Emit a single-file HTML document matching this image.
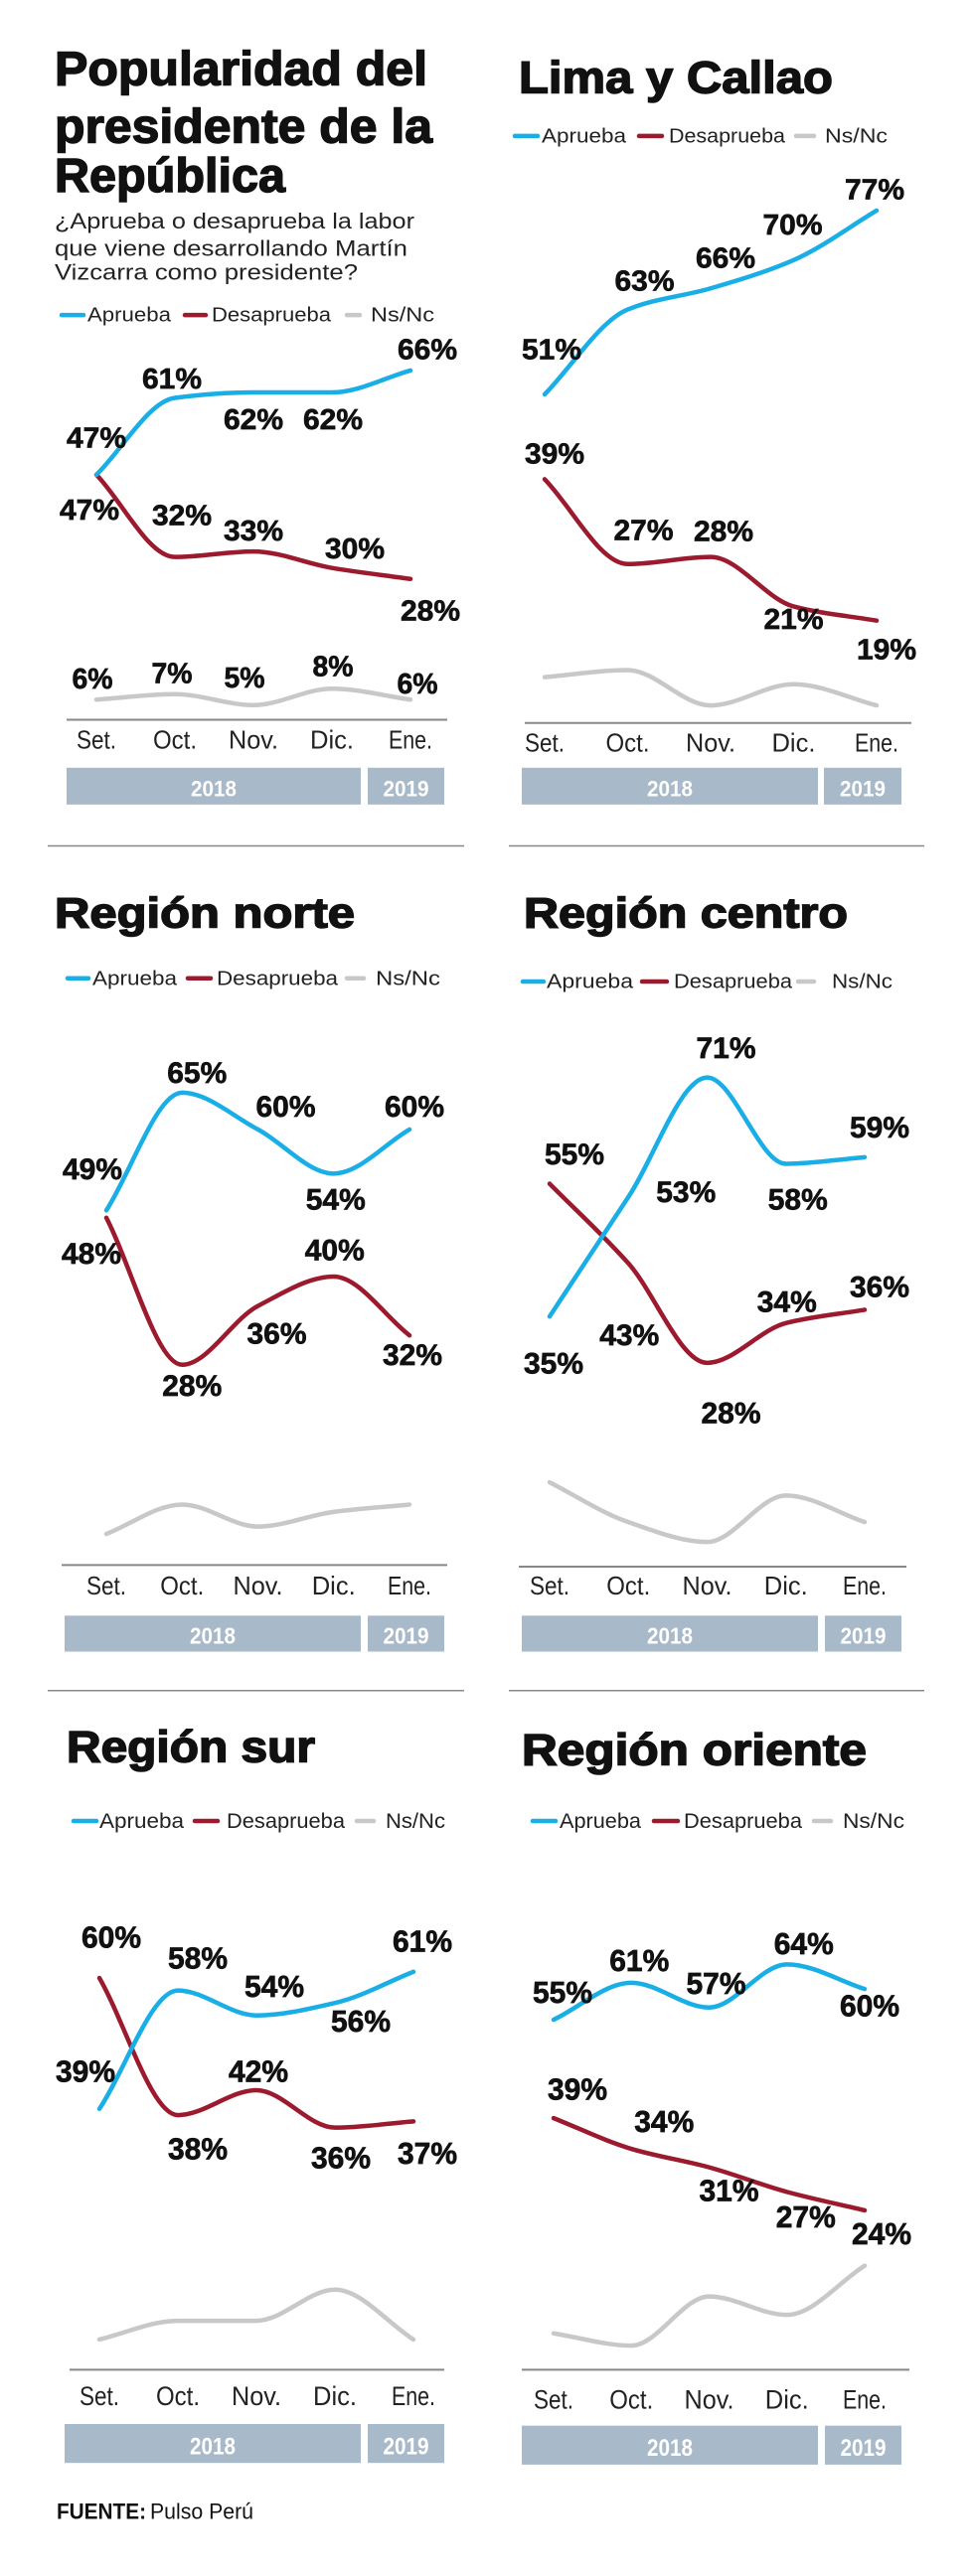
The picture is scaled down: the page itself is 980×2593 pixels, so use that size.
<!DOCTYPE html>
<html><head><meta charset="utf-8"><style>
html,body{margin:0;padding:0;background:#fff;}
svg{display:block;}
text{font-family:"Liberation Sans",sans-serif;}
</style></head><body>
<svg id="chart" width="980" height="2593" viewBox="0 0 980 2593" xmlns="http://www.w3.org/2000/svg">
<rect width="980" height="2593" fill="#fff"/>
<g id="row1" transform="scale(1,1.61)"></g>
<g id="row2" transform="translate(0,840) scale(1,1.645) translate(0,-840)"></g>
<g id="row3" transform="translate(0,1700) scale(1,1.705) translate(0,-1700)"></g>
</svg>
<script>
// ---- data ----
const months = ["Set.","Oct.","Nov.","Dic.","Ene."];
const years = ["2018","2019"];
const nacAprueba = [47,61,62,62,66];
const nacDesaprueba = [47,32,33,30,28];
const nacNsNc = [6,7,5,8,6];
const limaAprueba = [51,63,66,70,77];
const limaDesaprueba = [39,27,28,21,19];
const limaNsNc = [11,12,7,10,7];
const norteAprueba = [49,65,60,54,60];
const norteDesaprueba = [48,28,36,40,32];
const norteNsNc = [5,9,6,8,9];
const centroAprueba = [35,53,71,58,59];
const centroDesaprueba = [55,43,28,34,36];
const centroNsNc = [10,4,1,8,4];
const surAprueba = [39,58,54,56,61];
const surDesaprueba = [60,38,42,36,37];
const surNsNc = [2,5,5,10,2];
const orienteAprueba = [55,61,57,64,60];
const orienteDesaprueba = [39,34,31,27,24];
const orienteNsNc = [4,2,10,7,15];

const NS="http://www.w3.org/2000/svg";
const BLUE="#1aaee6", RED="#9c1a2e", GRAY="#c8c8c8", BAR="#a8b9c9";
function mk(tag,attrs,parent){const e=document.createElementNS(NS,tag);for(const k in attrs)e.setAttribute(k,attrs[k]);if(parent)parent.appendChild(e);return e;}
function txt(parent,s,x,y,fs,opts){
  const t=mk('text',{x:x,y:y,'font-size':fs,'text-anchor':opts.anchor||'start','font-weight':opts.weight||'normal',fill:opts.fill||'#111'},parent);
  if(opts.len){t.setAttribute('textLength',opts.len);t.setAttribute('lengthAdjust','spacingAndGlyphs');}
  if(opts.stroke){t.setAttribute('stroke',opts.fill||'#111');t.setAttribute('stroke-width',opts.stroke);}
  t.textContent=s;return t;
}
function monotonePath(pts){
  const n=pts.length;const dx=[],dy=[],m=[];
  for(let i=0;i<n-1;i++){dx[i]=pts[i+1][0]-pts[i][0];dy[i]=pts[i+1][1]-pts[i][1];m[i]=dy[i]/dx[i];}
  const t=[];t[0]=m[0];t[n-1]=m[n-2];
  for(let i=1;i<n-1;i++){if(m[i-1]*m[i]<=0)t[i]=0;else{const w1=2*dx[i]+dx[i-1],w2=dx[i]+2*dx[i-1];t[i]=(w1+w2)/(w1/m[i-1]+w2/m[i]);}}
  let d="M"+pts[0][0]+","+pts[0][1];
  for(let i=0;i<n-1;i++){const h=dx[i]/3;d+=" C"+(pts[i][0]+h)+","+(pts[i][1]+h*t[i])+" "+(pts[i+1][0]-h)+","+(pts[i+1][1]-h*t[i+1])+" "+pts[i+1][0]+","+pts[i+1][1];}
  return d;
}
function drawPanel(g,c){
  const p=mk('g',{},g);
  
  
  if(c.sep){const s=mk('line',{x1:c.sep[0],x2:c.sep[1],y1:c.sep[2],y2:c.sep[2],stroke:'#888','stroke-width':1.5,'vector-effect':'non-scaling-stroke'},p);
    }
  c.title.forEach(function(tl){const t=txt(p,tl[0],c.tx,tl[1],c.tfs,{weight:'bold',len:tl[2],stroke:0.9});
    });
  (c.sub||[]).forEach(function(sl){const t=txt(p,sl[0],c.tx,sl[1],14,{len:sl[2],fill:'#222'});
    });
  // legend
  const L=c.leg, ly=L.y;
  [[BLUE,'Aprueba',L.b],[RED,'Desaprueba',L.r],[GRAY,'Ns/Nc',L.g]].forEach(function(e){
    const lg=mk('g',{},p);
    
    
    mk('line',{x1:e[2][0],x2:e[2][1],y1:ly-4,y2:ly-4,stroke:e[0],'stroke-width':4.5,'stroke-linecap':'round','vector-effect':'non-scaling-stroke'},lg);
    txt(lg,e[1],e[2][2],ly,12.5,{len:e[2][3],fill:'#222'});
  });
  const X=function(i){return c.x0+i*c.step;};
  const Y=function(v){return c.y0-v*c.k;};
  // axis
  const ax=mk('line',{x1:c.axis[0],x2:c.axis[1],y1:c.axis[2],y2:c.axis[2],stroke:'#888','stroke-width':2,'vector-effect':'non-scaling-stroke'},p);
  
  months.forEach(function(m,i){const t=txt(p,m,X(i),c.my,16,{anchor:'middle',len:m.length===4?(m==="Set."?40:(m==="Nov."?50:44)):34,fill:'#222'});
    });
  // years bar
  const yb=c.yb;
  [[yb.a,yb.b,years[0]],[yb.c,yb.d,years[1]]].forEach(function(b){
    const r=mk('rect',{x:b[0],y:yb.y,width:b[1]-b[0],height:yb.h,fill:BAR},p);
    
    const t=txt(p,b[2],(b[0]+b[1])/2,yb.y+yb.h*0.78,14,{anchor:'middle',weight:'bold',fill:'#fff',len:46});
    
  });
  // series
  const series=[[c.ns,GRAY,'nsnc',c.offG],[c.des,RED,'desaprueba',c.offR],[c.apr,BLUE,'aprueba',c.offB]];
  series.forEach(function(s){
    const pts=s[0].map(function(v,i){return [X(i),Y(v)];});
    const path=mk('path',{d:monotonePath(pts),fill:'none',stroke:s[1],'stroke-width':4.5,'stroke-linecap':'round','vector-effect':'non-scaling-stroke'},p);
    
    
    if(s[3]){s[0].forEach(function(v,i){
      const lab=v+"%";
      const t=txt(p,lab,X(i)+s[3][i][0],Y(v)+s[3][i][1],18,{anchor:'middle',weight:'bold',len:lab.length===3?60:41,stroke:0.4});
      
      
    });}
  });
}
const r1=document.getElementById('row1'),r2=document.getElementById('row2'),r3=document.getElementById('row3');
drawPanel(r1,{name:'panel-nacional',tx:55,tfs:30,
  title:[["Popularidad del",53,375],["presidente de la",89,380],["República",120,232]],
  sub:[["¿Aprueba o desaprueba la labor",143,362],["que viene desarrollando Martín",160,355],["Vizcarra como presidente?",175,305]],
  leg:{y:201,b:[62,84,88,84],r:[186,207,213,120],g:[349,362,373,64]},
  x0:97,step:79,y0:458,k:3.43,axis:[67,450,450],my:468,yb:{y:480,h:23,a:67,b:363,c:370,d:447},
  apr:nacAprueba,des:nacDesaprueba,ns:nacNsNc,
  offB:[[0,-17],[-3,-6],[0,23],[1,23],[17,-7]],offR:[[-7,28],[7,-20],[0,-7],[23,-6],[20,26]],offG:[[-4,-7],[-3,-7],[-9,-11],[1,-8],[7,-4]]});
drawPanel(r1,{name:'panel-lima-callao',tx:522,tfs:28,title:[["Lima y Callao",58,316]],
  leg:{y:89,b:[518,541,545,85],r:[643,666,673,117],g:[801,819,830,63]},
  x0:548,step:83.5,y0:472,k:4.42,axis:[528,917,452],my:470,yb:{y:480,h:23,a:525,b:823,c:829,d:907},
  apr:limaAprueba,des:limaDesaprueba,ns:limaNsNc,
  offB:[[7,-22],[17,-12],[15,-13],[-1,-16],[-2,-7]],offR:[[10,-10],[16,-15],[13,-10],[0,14],[10,24]],offG:null});
drawPanel(r2,{name:'panel-region-norte',sep:[48,467,847],tx:55,tfs:26,title:[["Región norte",897,302]],
  leg:{y:932,b:[68,89,93,85],r:[189,212,218,122],g:[349,366,378,65]},
  x0:107,step:76.25,y0:1290.5,k:4.5,axis:[62,450,1287],my:1305,yb:{y:1318,h:22,a:65,b:363,c:370,d:447},
  apr:norteAprueba,des:norteDesaprueba,ns:norteNsNc,
  offB:[[-14,-19],[15,-6],[28,-8],[2,22],[5,-8]],offR:[[-15,28],[10,19],[19,23],[1,-10],[3,18]],offG:null});
drawPanel(r2,{name:'panel-region-centro',sep:[512,930,847],tx:527,tfs:26,title:[["Región centro",897,326]],
  leg:{y:934,b:[526,547,550,87],r:[646,671,678,119],g:[803,819,837,61]},
  x0:553,step:79.25,y0:1277,k:4.06,axis:[522,912,1288],my:1305,yb:{y:1318,h:22,a:525,b:823,c:830,d:907},
  apr:centroAprueba,des:centroDesaprueba,ns:centroNsNc,
  offB:[[4,35],[58,3],[19,-12],[12,28],[15,-12]],offR:[[25,-12],[1,50],[24,37],[1,-7],[15,-8]],offG:null});
drawPanel(r3,{name:'panel-region-sur',sep:[48,467,1701],tx:67,tfs:26,title:[["Región sur",1743,250]],
  leg:{y:1782,b:[74,97,100,85],r:[196,219,228,119],g:[359,376,388,60]},
  x0:100,step:79,y0:2091.5,k:3.68,axis:[70,447,2102],my:2123,yb:{y:2134,h:23,a:65,b:363,c:370,d:447},
  apr:surAprueba,des:surDesaprueba,ns:surNsNc,
  offB:[[-14,-16],[20,-13],[18,-11],[26,17],[9,-12]],offR:[[12,-18],[20,26],[2,-5],[6,24],[14,25]],offG:null});
drawPanel(r3,{name:'panel-region-oriente',sep:[512,930,1701],tx:525,tfs:26,title:[["Región oriente",1745,347]],
  leg:{y:1782,b:[536,559,563,82],r:[658,682,688,119],g:[819,836,848,62]},
  x0:557,step:78.25,y0:2095,k:3.63,axis:[525,915,2102],my:2125,yb:{y:2135,h:23,a:525,b:823,c:830,d:907},
  apr:orienteAprueba,des:orienteDesaprueba,ns:orienteNsNc,
  offB:[[9,-10],[8,-7],[7,-8],[17,-6],[5,16]],offR:[[24,-11],[33,-10],[20,20],[19,21],[17,20]],offG:null});
const f1=txt(r3,"FUENTE:",57,2190,13,{weight:'bold',len:90});


const f2=txt(r3,"Pulso Perú",151,2190,13,{len:104});


</script>
</body></html>
